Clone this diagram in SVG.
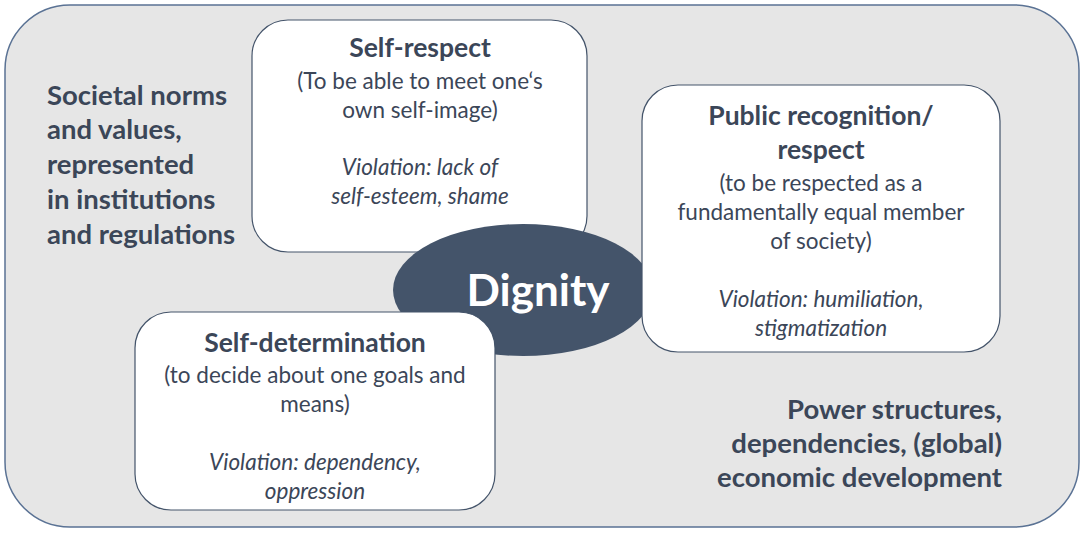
<svg xmlns="http://www.w3.org/2000/svg" width="1084" height="535" viewBox="0 0 1084 535">
<style>
text{font-family:Lato,"Open Sans",sans-serif;fill:#3b4658;text-anchor:middle}
.t{font-weight:bold;font-size:26.5px}
.n{font-size:22.5px}
.i{font-size:22.5px;font-style:italic}
.s{font-weight:bold;font-size:27.5px;text-anchor:start}
.box{fill:#fff;stroke:#44546a;stroke-width:1.2}
</style>
<rect x="5" y="5" width="1074" height="522" rx="65" fill="#e6e6e6" stroke="#5a7294" stroke-width="1.5"/>
<g id="societal"><text class="s" x="47" y="105">Societal norms</text><text class="s" x="47" y="139">and values,</text><text class="s" x="47" y="174">represented</text><text class="s" x="47" y="209">in institutions</text><text class="s" x="47" y="244">and regulations</text></g>
<g id="power"><text class="s" x="1002" y="419" style="text-anchor:end">Power structures,</text><text class="s" x="1002" y="453" style="text-anchor:end">dependencies, (global)</text><text class="s" x="1002" y="487" style="text-anchor:end">economic development</text></g>
<g id="connectors"/>
<g id="self-respect"><rect class="box" x="252" y="20" width="335" height="232" rx="36"/>
<text class="t" x="420" y="57">Self-respect</text><text class="n" x="420" y="89">(To be able to meet one‘s</text><text class="n" x="420" y="118">own self-image)</text><text class="i" x="420" y="175">Violation: lack of</text><text class="i" x="420" y="204">self-esteem, shame</text></g>
<g id="dignity"><ellipse cx="523" cy="290" rx="130" ry="66" fill="#44546a"/><text x="538" y="306" style="fill:#fff;font-weight:bold;font-size:44px">Dignity</text></g>
<g id="public"><rect class="box" x="642" y="85" width="358" height="267" rx="36"/>
<text class="t" x="821" y="125">Public recognition/</text><text class="t" x="821" y="159">respect</text><text class="n" x="821" y="191">(to be respected as a</text><text class="n" x="821" y="220">fundamentally equal member</text><text class="n" x="821" y="249">of society)</text><text class="i" x="821" y="307">Violation: humiliation,</text><text class="i" x="821" y="336">stigmatization</text></g>
<g id="self-determination"><rect class="box" x="135" y="312" width="360" height="198" rx="36"/>
<text class="t" x="315" y="352">Self-determination</text><text class="n" x="315" y="383">(to decide about one goals and</text><text class="n" x="315" y="412">means)</text><text class="i" x="315" y="470">Violation: dependency,</text><text class="i" x="315" y="499">oppression</text></g>
</svg>
